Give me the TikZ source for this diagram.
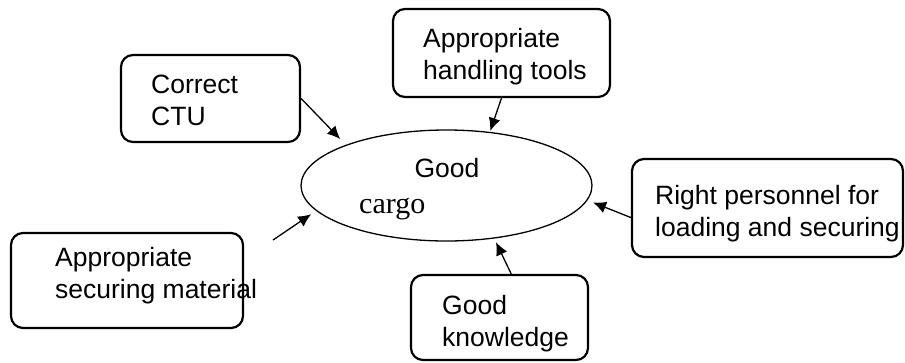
\documentclass[tikz,border=0pt]{standalone}
\usepackage{fontspec}
\setmainfont{Liberation Sans}
\newfontfamily\cargofont{Liberation Serif}
\usetikzlibrary{arrows.meta}
\usetikzlibrary{fit}
\usetikzlibrary{shapes.geometric}

\tikzset{
  box/.style={draw, line width=2.2pt, rounded corners=12pt, inner sep=0pt},
  txt/.style={inner sep=0pt, align=left, anchor=north west,
    font=\fontsize{26.5pt}{32pt}\selectfont},
  push/.style={-{Latex[length=13pt,width=12pt]}, line width=1.3pt, shorten >=6pt}
}

\begin{document}
\begin{tikzpicture}[x=1pt, y=-1pt]
      \useasboundingbox (0, 0) rectangle (905, 362);

      \node [ellipse, draw, line width=1.3pt, minimum width=291pt,
        minimum height=111pt, inner sep=0pt] (cargo) at (446.5, 185.5) {};
      \node [txt, anchor=base] (goodtxt) at (447, 177) {Good};
      \node [inner sep=0pt, anchor=base west, font=\fontsize{30pt}{36pt}\cargofont]
        (cargotxt) at (359, 213) {cargo};

      \node [box, fit={(121, 55) (300, 142)}] (ctu) {};
      \node [box, fit={(393, 9) (610, 97)}] (tools) {};
      \node [box, fit={(632, 159) (903, 257)}] (staff) {};
      \node [box, fit={(411, 275) (588, 360)}] (knowledge) {};
      \node [box, fit={(11, 233) (243, 328)}] (material) {};

      \node [txt] (ctutxt) at (151, 75) {Correct\\CTU};
      \node [txt] (toolstxt) at (423, 28) {Appropriate\\handling tools};
      \node [txt] (stafftxt) at (655, 185) {Right personnel for\\loading and securing};
      \node [txt] (knowledgetxt) at (442, 295) {Good\\knowledge};
      \node [txt] (materialtxt) at (55, 247) {Appropriate\\securing material};

      \coordinate (matfrom) at (273, 240);

      \draw [push, shorten >=8pt] (ctu.east) -- (cargo.158.5);
      \draw [push, shorten >=1pt] (tools.south) -- (cargo.51);
      \draw [push] (staff.184) -- (cargo.-6.3);
      \draw [push, shorten >=4pt] (knowledge.75) -- (cargo.-48.5);
      \draw [push] (matfrom) -- (cargo.191.6);
    \end{tikzpicture}
\end{document}
